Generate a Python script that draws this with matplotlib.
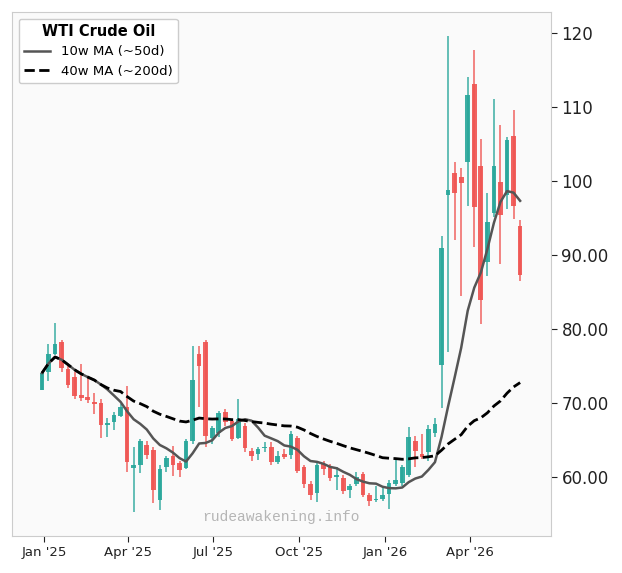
import numpy as np
import pandas as pd
import matplotlib
matplotlib.use("Agg")
import matplotlib.pyplot as plt
import matplotlib.dates as mdates

# weekly WTI candles
dates = pd.date_range("2024-12-30", periods=74, freq="7D")

opens = [71.76, 74.10, 76.58, 78.24, 74.55, 73.51, 71.08, 70.81, 70.00, 70.00,
         67.03, 67.34, 68.24, 69.37, 61.12, 61.62, 64.32, 63.65, 56.76, 61.35,
         62.84, 61.80, 61.17, 64.86, 76.58, 78.15, 65.23, 65.86, 68.69, 67.48,
         65.23, 66.89, 63.51, 63.06, 63.80, 64.05, 61.93, 63.06, 62.90, 65.18,
         61.26, 59.01, 57.74, 61.71, 61.35, 59.91, 59.82, 58.11, 59.01, 60.36,
         57.52, 56.76, 56.99, 57.57, 58.92, 59.10, 60.14, 64.86, 63.06, 63.29,
         65.86, 75.09, 98.11, 101.04, 100.54, 102.60, 113.15, 102.03, 88.96, 95.63,
         99.90, 98.11, 106.08, 93.92]
highs = [74.10, 77.93, 80.72, 78.47, 75.00, 74.10, 75.23, 73.65, 71.26, 70.50,
         67.93, 68.69, 69.82, 72.30, 63.96, 65.09, 64.86, 63.96, 61.49, 62.84,
         64.19, 62.16, 65.09, 77.70, 77.70, 78.47, 66.89, 68.92, 69.15, 67.79,
         70.50, 67.20, 63.87, 63.96, 64.63, 64.63, 63.51, 63.74, 66.22, 65.54,
         61.49, 59.37, 62.16, 62.16, 61.71, 61.26, 60.14, 59.01, 60.58, 60.58,
         57.74, 58.78, 58.78, 59.46, 62.39, 61.49, 66.67, 65.54, 65.77, 67.03,
         67.93, 92.57, 119.60, 102.50, 101.70, 114.05, 117.66, 105.60, 98.42, 111.04,
         107.53, 105.99, 109.55, 94.68]
lows = [71.70, 72.97, 76.40, 74.10, 71.99, 70.50, 70.18, 69.96, 68.47, 65.23,
        65.41, 66.31, 68.02, 60.58, 55.18, 60.45, 62.39, 56.45, 55.41, 60.58,
        60.04, 59.91, 61.04, 64.41, 69.37, 64.05, 64.41, 65.32, 66.89, 64.77,
        65.09, 63.29, 62.07, 62.25, 63.29, 61.49, 61.72, 62.39, 62.39, 60.45,
        58.47, 56.76, 56.53, 60.14, 59.37, 58.20, 57.66, 57.12, 58.78, 57.20,
        55.95, 56.53, 56.67, 55.64, 58.78, 58.78, 59.91, 61.26, 62.39, 62.07,
        65.32, 69.28, 76.80, 92.03, 84.46, 96.60, 91.08, 80.63, 87.16, 95.05,
        88.74, 96.17, 94.82, 86.49]
closes = [74.00, 76.58, 77.93, 74.68, 72.43, 70.95, 70.63, 70.41, 69.82, 67.03,
          67.30, 68.33, 69.41, 61.93, 61.62, 64.77, 62.97, 58.24, 61.04, 62.52,
          61.49, 60.90, 64.77, 73.06, 74.91, 65.54, 66.58, 68.56, 67.34, 65.09,
          67.79, 63.87, 62.75, 63.74, 63.95, 61.93, 62.84, 62.70, 65.77, 60.81,
          59.01, 57.43, 61.62, 61.04, 59.82, 60.14, 58.02, 58.65, 60.00, 57.43,
          56.67, 56.94, 57.43, 59.15, 59.55, 61.26, 65.32, 63.51, 62.70, 66.44,
          67.12, 90.90, 98.74, 98.34, 99.69, 111.60, 96.50, 83.87, 94.46, 102.03,
          95.41, 105.54, 96.62, 87.30]

ytick_vals = [60, 70, 80, 90, 100, 110, 120]
ytick_labels = ["60.00", "70.00", "80.00", "90.00", "100", "110", "120"]

o = np.array(opens)
h = np.array(highs)
l = np.array(lows)
c = np.array(closes)

ma10 = pd.Series(c).rolling(10, min_periods=1).mean()
ma40 = pd.Series(c).rolling(40, min_periods=1).mean()

up = c >= o
colors = np.where(up, "#26a69a", "#ef5350")

fig = plt.figure(figsize=(6.22, 5.73), dpi=100)
ax = fig.add_axes([12 / 622, 37 / 573, 539 / 622, 524 / 573])
ax.set_facecolor("#fafafa")
for s in ax.spines.values():
    s.set_color("#cccccc")

ax.vlines(dates, l, h, colors=colors, linewidth=1.1, alpha=0.9, zorder=2)
ax.bar(dates, np.maximum(np.abs(c - o), 0.2), bottom=np.minimum(o, c),
       width=5, color=colors, alpha=0.9, zorder=3)

ax.plot(dates, ma10, color="#555555", lw=1.8, label="10w MA (~50d)", zorder=4)
ax.plot(dates, ma40, color="black", lw=2, ls="--", label="40w MA (~200d)", zorder=4)

ax.set_xlim(pd.Timestamp("2024-11-28"), pd.Timestamp("2026-06-27"))
ax.set_ylim(51.95, 122.85)

ax.xaxis.set_major_locator(mdates.MonthLocator(bymonth=[1, 4, 7, 10]))
ax.xaxis.set_major_formatter(mdates.DateFormatter("%b '%y"))
ax.yaxis.tick_right()
ax.set_yticks(ytick_vals)
ax.set_yticklabels(ytick_labels)
ax.tick_params(axis="y", labelsize=12, colors="#222222", length=4)
ax.tick_params(axis="x", labelsize=9.5, colors="#222222", length=4)

leg = ax.legend(loc="upper left", title="WTI Crude Oil", fontsize=9.5,
                title_fontproperties={"weight": "bold", "size": 10.5},
                framealpha=1, edgecolor="#cccccc")

ax.text(0.5, 0.036, "rudeawakening.info", transform=ax.transAxes,
        ha="center", va="center", fontsize=10.5, family="Liberation Mono",
        color="#b5b5b5", zorder=1)

fig.savefig("out.png", dpi=100)
